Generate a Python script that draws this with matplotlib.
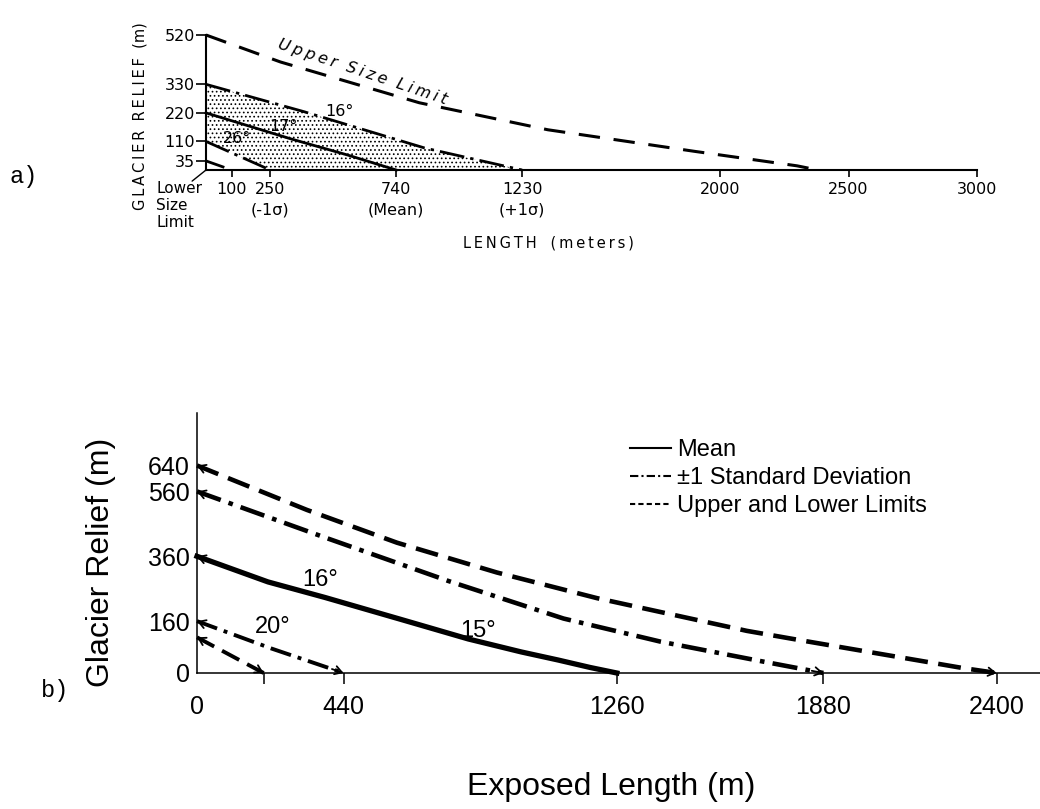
import numpy as np
import matplotlib
import matplotlib.pyplot as plt
from matplotlib.lines import Line2D

# ---- panel a) values: length (m) vs glacier relief (m) ----
upper_a_x = [0, 290, 830, 1330, 1900, 2300, 2380]
upper_a_y = [520, 416, 259, 155, 72, 16, 0]
plus_a_x = [0, 380, 850, 1230]
plus_a_y = [330, 225, 85, 0]
mean_a_x = [0, 330, 550, 740]
mean_a_y = [220, 120, 58, 0]
minus_a_x = [0, 250]
minus_a_y = [110, 0]
lower_a_x = [0, 100]
lower_a_y = [35, 0]
a_xticks = [100, 250, 740, 1230, 2000, 2500, 3000]
a_xlabels = ['100', '250\n(-1σ)', '740\n(Mean)', '1230\n(+1σ)', '2000', '2500', '3000']
a_yticks = [35, 110, 220, 330, 520]
a_angles = [('16°', 521, 227), ('17°', 303, 169), ('26°', 121, 123)]

# ---- panel b) values: exposed length (m) vs glacier relief (m) ----
upper_b_x = [0, 330, 600, 900, 1200, 1650, 1800, 2300, 2400]
upper_b_y = [640, 503, 402, 310, 231, 130, 103, 15, 0]
plus_b_x = [0, 384, 754, 1100, 1390, 1685, 1880]
plus_b_y = [560, 418, 284, 168, 97, 38, 0]
mean_b_x = [0, 213, 384, 613, 814, 973, 1084, 1180, 1260]
mean_b_y = [360, 281, 233, 165, 105, 65, 40, 17, 0]
minus_b_x = [0, 222, 440]
minus_b_y = [160, 76, 0]
lower_b_x = [0, 200]
lower_b_y = [110, 0]
b_xticks = [0, 200, 440, 1260, 1880, 2400]
b_xlabels = ['0', '', '440', '1260', '1880', '2400']
b_yticks = [0, 160, 360, 560, 640]
b_angles = [('16°', 369, 287), ('15°', 844, 130), ('20°', 228, 142)]
legend_labels = ['Mean', '±1 Standard Deviation', 'Upper and Lower Limits']

W, H = 1040, 809
SANS_B = ['Liberation Sans', 'DejaVu Sans']
MONO = ['Liberation Mono', 'DejaVu Sans Mono']

plt.rcParams['font.family'] = ['DejaVu Sans']
plt.rcParams['hatch.linewidth'] = 0.7


def spaced(s):
    '''Insert thin spaces between letters (lettering-guide look)'''
    return '\u2009'.join(s)


def box(left, bottom_px, right, top_px):
    '''Axes rectangle from pixel edges'''
    return [left / W, 1 - bottom_px / H, (right - left) / W, (bottom_px - top_px) / H]


fig = plt.figure(figsize=(W / 100, H / 100), dpi=100)

# ================= panel a =================
ax = fig.add_axes(box(206, 170, 977, 35))
ax.set_xlim(0, 3000)
ax.set_ylim(0, 520)
for side in ['top', 'right']:
    ax.spines[side].set_visible(False)
for side in ['left', 'bottom']:
    ax.spines[side].set_linewidth(1.5)

dash_a = (0, (7, 4.5))
dashdot_a = (0, (9, 2.2, 1.2, 2.2))

# stippled band between +1 and -1 standard deviation
grid = np.linspace(0, plus_a_x[-1], 400)
top = np.interp(grid, plus_a_x, plus_a_y)
bottom = np.interp(grid, minus_a_x, minus_a_y)
ax.fill_between(grid, bottom, top, facecolor='none', edgecolor='black',
                linewidth=0, hatch='....')

ax.plot(upper_a_x, upper_a_y, color='black', lw=2.2, ls=dash_a, clip_on=False)
ax.plot(plus_a_x, plus_a_y, color='black', lw=2.0, ls=dashdot_a, clip_on=False)
ax.plot(mean_a_x, mean_a_y, color='black', lw=2.0, ls='-', clip_on=False)
ax.plot(minus_a_x, minus_a_y, color='black', lw=2.0, ls=dashdot_a, clip_on=False)
ax.plot(lower_a_x, lower_a_y, color='black', lw=2.0, ls=dash_a, clip_on=False)

ax.set_xticks(a_xticks)
ax.set_xticklabels(a_xlabels, fontsize=11.5, linespacing=1.45)
ax.set_yticks(a_yticks)
ax.set_yticklabels([str(v) for v in a_yticks], fontsize=11.5)
ax.tick_params(axis='x', direction='out', length=5, width=1.2, pad=4)
ax.tick_params(axis='y', direction='out', length=7, width=1.2, pad=1)

for text, x, y in a_angles:
    ax.text(x, y, text, fontsize=11.5, ha='center', va='center')

ax.text(607, 377, spaced('Upper') + '  ' + spaced('Size') + '  ' + spaced('Limit'),
        fontsize=11.5, style='italic', rotation=-18.5, rotation_mode='anchor',
        ha='center', va='center')

# little slanted stroke at the origin and the lower limit note
ax.annotate('', xy=(0, 0), xytext=(-10, -8), textcoords='offset points',
            arrowprops=dict(arrowstyle='-', lw=1.0, color='black',
                            shrinkA=0, shrinkB=0))
fig.text(156 / W, 1 - 181 / H, 'Lower\nSize\nLimit', fontsize=11, ha='left',
         va='top', linespacing=1.15)

fig.text(140 / W, 1 - 116 / H, spaced('GLACIER') + '  ' + spaced('RELIEF') + '  (m)',
         fontsize=10.5, rotation=90, ha='center', va='center')
fig.text(548 / W, 1 - 243 / H, spaced('LENGTH') + '   ' + spaced('(meters)'),
         fontsize=10.5, ha='center', va='center')
fig.text(24 / W, 1 - 177 / H, 'a)', family=MONO, fontsize=17, ha='center', va='center')

# ================= panel b =================
bx = fig.add_axes(box(197, 673, 1040, 413))
bx.set_xlim(0, 2530)
bx.set_ylim(0, 802)
for side in ['top', 'right']:
    bx.spines[side].set_visible(False)
for side in ['left', 'bottom']:
    bx.spines[side].set_linewidth(1.1)

dash_b = (0, (5, 2.3))
dashdot_b = (0, (5.5, 1.8, 1.0, 1.8))

series_b = [
    (upper_b_x, upper_b_y, dash_b, 3.3, True),
    (plus_b_x, plus_b_y, dashdot_b, 3.3, True),
    (mean_b_x, mean_b_y, '-', 3.8, False),
    (minus_b_x, minus_b_y, dashdot_b, 2.8, True),
    (lower_b_x, lower_b_y, dash_b, 2.8, True),
]
for xs, ys, ls, lw, end_arrow in series_b:
    bx.plot(xs, ys, color='black', lw=lw, ls=ls, clip_on=False,
            solid_joinstyle='round')
    # open arrowhead where each curve meets the relief axis
    x_in = 35
    bx.annotate('', xy=(0, ys[0]), xytext=(x_in, np.interp(x_in, xs, ys)),
                arrowprops=dict(arrowstyle='->,head_length=0.5,head_width=0.3',
                                lw=1.3, color='black', shrinkA=0, shrinkB=0))
    if end_arrow:
        x_back = xs[-1] - 35
        bx.annotate('', xy=(xs[-1], 0), xytext=(x_back, np.interp(x_back, xs, ys)),
                    arrowprops=dict(arrowstyle='->,head_length=0.5,head_width=0.3',
                                    lw=1.3, color='black', shrinkA=0, shrinkB=0))

bx.set_xticks(b_xticks)
bx.set_xticklabels(b_xlabels, family=SANS_B, fontsize=18)
bx.set_yticks(b_yticks)
bx.set_yticklabels([str(v) for v in b_yticks], family=SANS_B, fontsize=18)
bx.tick_params(axis='x', direction='out', length=8, width=1.1, pad=8)
bx.tick_params(axis='y', length=0, pad=5)
bx.xaxis.get_major_ticks()[0].tick1line.set_visible(False)

for text, x, y in b_angles:
    bx.text(x, y, text, family=SANS_B, fontsize=17, ha='center', va='center')

handles = [
    Line2D([], [], color='black', lw=1.5, ls='-'),
    Line2D([], [], color='black', lw=1.5, ls=(0, (4, 1.5, 1, 1.5))),
    Line2D([], [], color='black', lw=1.5, ls=(0, (2.5, 1.5))),
]
bx.legend(handles, legend_labels, loc='upper left',
          bbox_to_anchor=(630 / W, 1 - 439 / H), bbox_transform=fig.transFigure,
          frameon=False, borderpad=0, borderaxespad=0, handlelength=1.75,
          handletextpad=0.25, labelspacing=0.25,
          prop={'family': SANS_B, 'size': 17})

fig.text(101 / W, 1 - 562 / H, 'Glacier Relief (m)', family=SANS_B, fontsize=23,
         rotation=90, ha='center', va='center')
fig.text(611 / W, 1 - 787 / H, 'Exposed Length (m)', family=SANS_B, fontsize=23,
         ha='center', va='center')
fig.text(55 / W, 1 - 690 / H, 'b)', family=MONO, fontsize=17, ha='center', va='center')

fig.savefig('out.png', dpi=100, facecolor='white')
